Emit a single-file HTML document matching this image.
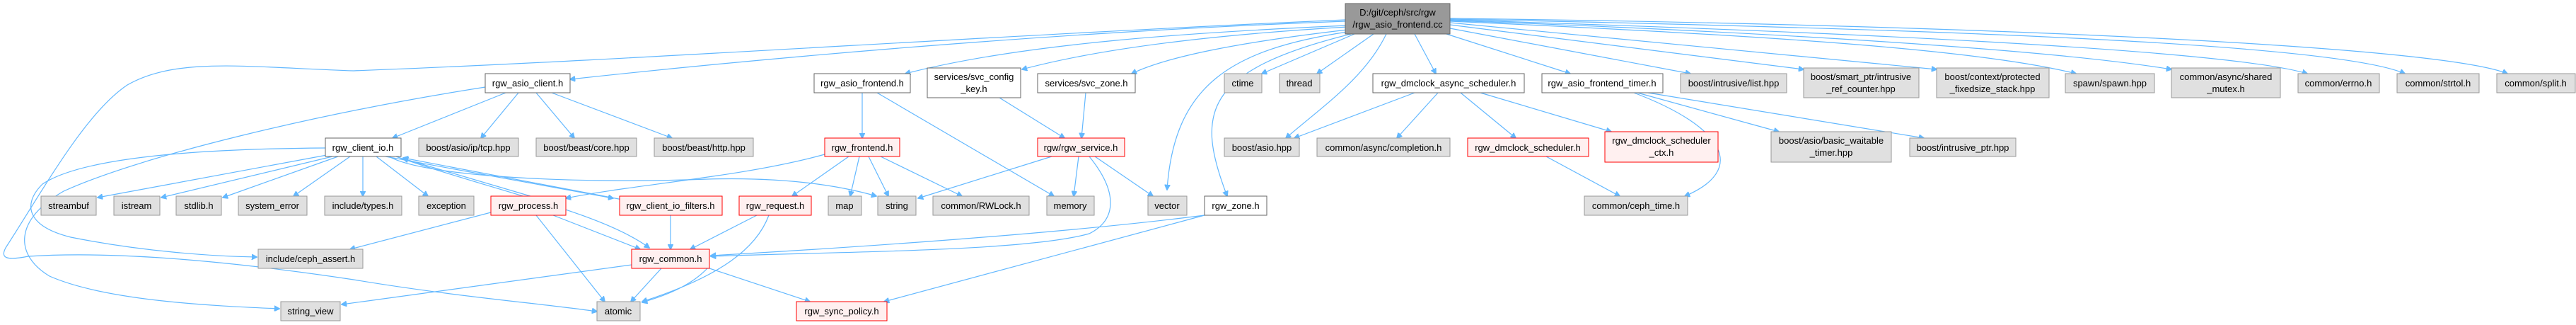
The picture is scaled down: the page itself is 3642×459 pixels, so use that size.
<!DOCTYPE html>
<html><head><meta charset="utf-8"><style>
html,body{margin:0;padding:0;background:#fff;}
svg{display:block;}
text{font-family:"Liberation Sans",Arial,sans-serif;font-size:13px;fill:#000;text-anchor:middle;}
.g{fill:#e0e0e0;stroke:#999;stroke-width:1}
.w{fill:#fff;stroke:#666;stroke-width:1}
.r{fill:#fff0f0;stroke:#ff0000;stroke-width:1}
.t{fill:#999;stroke:#666;stroke-width:1}
path{fill:none;stroke:#63b8ff;stroke-width:1.2;marker-end:url(#a)}
</style></head><body>
<svg width="3642" height="459" viewBox="0 0 3642 459" xmlns="http://www.w3.org/2000/svg">
<defs><marker id="a" viewBox="0 0 10 10" refX="9" refY="5" markerWidth="8" markerHeight="8" orient="auto" markerUnits="userSpaceOnUse"><path d="M0,0 L10,5 L0,10 z" style="fill:#63b8ff;stroke:#63b8ff;marker-end:none"/></marker></defs>

<!-- edges from top -->
<path d="M1902,30 C1500,45 1100,80 806,112"/>
<path d="M1902,28 C1400,50 900,85 500,100 C350,95 250,80 180,120 C120,160 60,270 8,350 C0,365 10,368 40,362 C150,355 300,365 500,395 C650,420 780,430 844,440"/>
<path d="M1905,36 C1700,45 1450,60 1280,104"/>
<path d="M1905,38 C1700,50 1550,70 1445,98"/>
<path d="M1905,42 C1750,60 1650,80 1600,104"/>
<path d="M1905,45 C1740,70 1660,120 1650,268"/>
<path d="M1910,48 C1700,100 1690,160 1735,277"/>
<path d="M1915,48 L1784,104"/>
<path d="M1942,48 L1862,104"/>
<path d="M1960,48 C1930,110 1870,150 1818,195"/>
<path d="M2000,48 L2030,104"/>
<path d="M2045,48 L2220,104"/>
<path d="M2050,40 L2390,104"/>
<path d="M2050,35 L2550,98"/>
<path d="M2050,32 L2738,98"/>
<path d="M2050,30 C2500,50 2800,70 2935,104"/>
<path d="M2050,29 C2500,45 2900,70 3070,98"/>
<path d="M2050,28 C2600,45 3150,70 3262,104"/>
<path d="M2050,27 C2700,40 3300,60 3400,104"/>
<path d="M2050,26 C2800,35 3450,65 3545,104"/>

<!-- rgw_asio_client -->
<path d="M715,131 L555,195"/>
<path d="M733,131 L680,195"/>
<path d="M758,131 L812,195"/>
<path d="M780,131 L950,195"/>
<path d="M686,123 C450,160 200,220 90,270 C20,310 20,360 70,390 C150,425 300,432 395,436"/>
<!-- rgw_client_io -->
<path d="M460,209 C300,210 120,220 60,260 C30,290 40,320 100,335 C200,355 300,362 363,363"/>
<path d="M462,219 L138,279"/>
<path d="M470,221 L228,279"/>
<path d="M478,221 L315,279"/>
<path d="M495,221 L415,277"/>
<path d="M513,221 L513,277"/>
<path d="M532,221 L605,277"/>
<path d="M545,221 L867,280"/>
<path d="M550,221 C600,250 820,260 1000,253 C1100,250 1180,260 1239,277"/>
<path d="M560,221 C700,270 850,300 918,350"/>
<path d="M880,282 L570,223"/>
<path d="M760,280 L570,224"/>
<!-- rgw_process -->
<path d="M694,300 L495,352"/>
<path d="M782,304 L905,352"/>
<path d="M758,304 L855,426"/>
<!-- filters -->
<path d="M948,304 L948,352"/>
<!-- rgw_request -->
<path d="M1070,304 L976,352"/>
<path d="M1087,304 C1070,350 1020,390 908,426"/>
<!-- rgw_common -->
<path d="M893,374 L483,430"/>
<path d="M935,379 L892,426"/>
<path d="M1000,379 C980,400 950,415 908,427"/>
<path d="M1003,379 L1145,426"/>
<!-- rgw_frontend -->
<path d="M1200,221 L1120,277"/>
<path d="M1215,221 L1202,277"/>
<path d="M1228,221 L1256,277"/>
<path d="M1245,221 L1360,277"/>
<path d="M1166,218 C1050,250 900,260 800,280"/>
<!-- rgw_asio_frontend -->
<path d="M1219,131 L1219,195"/>
<path d="M1240,131 L1490,277"/>
<!-- svc -->
<path d="M1413,138 L1505,195"/>
<path d="M1535,131 L1529,195"/>
<!-- rgw_service -->
<path d="M1487,221 L1298,280"/>
<path d="M1525,221 L1518,277"/>
<path d="M1548,221 L1630,277"/>
<path d="M1540,221 C1580,270 1580,310 1540,330 C1450,355 1200,355 1005,362"/>
<!-- rgw_zone -->
<path d="M1703,304 C1500,330 1200,350 1005,361"/>
<path d="M1703,304 L1250,426"/>
<!-- dmclock async -->
<path d="M2000,131 L1830,195"/>
<path d="M2033,131 L1975,195"/>
<path d="M2065,131 L2143,195"/>
<path d="M2093,131 L2278,186"/>
<!-- timer -->
<path d="M2310,131 C2440,180 2470,240 2382,277"/>
<path d="M2315,131 L2515,186"/>
<path d="M2330,131 L2720,195"/>
<!-- scheduler -->
<path d="M2186,221 L2290,277"/>

<!-- nodes -->
<rect class="t" x="1902" y="5" width="148" height="43"/><text x="1976" y="22">D:/git/ceph/src/rgw</text><text x="1976" y="39">/rgw_asio_frontend.cc</text>

<rect class="w" x="686" y="104" width="120" height="27"/><text x="746" y="122">rgw_asio_client.h</text>
<rect class="w" x="1151" y="104" width="136" height="27"/><text x="1219" y="122">rgw_asio_frontend.h</text>
<rect class="w" x="1311" y="96" width="132" height="42"/><text x="1377" y="113">services/svc_config</text><text x="1377" y="130">_key.h</text>
<rect class="w" x="1467" y="104" width="138" height="27"/><text x="1536" y="122">services/svc_zone.h</text>
<rect class="g" x="1731" y="104" width="53" height="27"/><text x="1757" y="122">ctime</text>
<rect class="g" x="1809" y="104" width="57" height="27"/><text x="1837" y="122">thread</text>
<rect class="w" x="1941" y="104" width="214" height="27"/><text x="2048" y="122">rgw_dmclock_async_scheduler.h</text>
<rect class="w" x="2180" y="104" width="171" height="27"/><text x="2265" y="122">rgw_asio_frontend_timer.h</text>
<rect class="g" x="2376" y="104" width="150" height="27"/><text x="2451" y="122">boost/intrusive/list.hpp</text>
<rect class="g" x="2550" y="96" width="163" height="42"/><text x="2631" y="113">boost/smart_ptr/intrusive</text><text x="2631" y="130">_ref_counter.hpp</text>
<rect class="g" x="2738" y="96" width="159" height="42"/><text x="2817" y="113">boost/context/protected</text><text x="2817" y="130">_fixedsize_stack.hpp</text>
<rect class="g" x="2920" y="104" width="126" height="27"/><text x="2983" y="122">spawn/spawn.hpp</text>
<rect class="g" x="3070" y="96" width="154" height="42"/><text x="3147" y="113">common/async/shared</text><text x="3147" y="130">_mutex.h</text>
<rect class="g" x="3249" y="104" width="115" height="27"/><text x="3306" y="122">common/errno.h</text>
<rect class="g" x="3389" y="104" width="116" height="27"/><text x="3447" y="122">common/strtol.h</text>
<rect class="g" x="3530" y="104" width="111" height="27"/><text x="3585" y="122">common/split.h</text>

<rect class="w" x="460" y="195" width="107" height="26"/><text x="513" y="213">rgw_client_io.h</text>
<rect class="g" x="592" y="195" width="141" height="26"/><text x="662" y="213">boost/asio/ip/tcp.hpp</text>
<rect class="g" x="758" y="195" width="142" height="26"/><text x="829" y="213">boost/beast/core.hpp</text>
<rect class="g" x="925" y="195" width="140" height="26"/><text x="995" y="213">boost/beast/http.hpp</text>
<rect class="r" x="1166" y="195" width="106" height="26"/><text x="1219" y="213">rgw_frontend.h</text>
<rect class="r" x="1467" y="195" width="123" height="26"/><text x="1528" y="213">rgw/rgw_service.h</text>
<rect class="g" x="1731" y="195" width="106" height="26"/><text x="1784" y="213">boost/asio.hpp</text>
<rect class="g" x="1862" y="195" width="188" height="26"/><text x="1956" y="213">common/async/completion.h</text>
<rect class="r" x="2075" y="195" width="171" height="26"/><text x="2160" y="213">rgw_dmclock_scheduler.h</text>
<rect class="r" x="2269" y="186" width="160" height="43"/><text x="2349" y="203">rgw_dmclock_scheduler</text><text x="2349" y="220">_ctx.h</text>
<rect class="g" x="2504" y="186" width="170" height="43"/><text x="2589" y="203">boost/asio/basic_waitable</text><text x="2589" y="220">_timer.hpp</text>
<rect class="g" x="2700" y="195" width="150" height="26"/><text x="2775" y="213">boost/intrusive_ptr.hpp</text>

<rect class="g" x="58" y="277" width="78" height="27"/><text x="97" y="295">streambuf</text>
<rect class="g" x="161" y="277" width="65" height="27"/><text x="193" y="295">istream</text>
<rect class="g" x="249" y="277" width="64" height="27"/><text x="281" y="295">stdlib.h</text>
<rect class="g" x="337" y="277" width="97" height="27"/><text x="385" y="295">system_error</text>
<rect class="g" x="459" y="277" width="109" height="27"/><text x="513" y="295">include/types.h</text>
<rect class="g" x="592" y="277" width="78" height="27"/><text x="631" y="295">exception</text>
<rect class="r" x="694" y="277" width="106" height="27"/><text x="747" y="295">rgw_process.h</text>
<rect class="r" x="876" y="277" width="145" height="27"/><text x="948" y="295">rgw_client_io_filters.h</text>
<rect class="r" x="1045" y="277" width="102" height="27"/><text x="1096" y="295">rgw_request.h</text>
<rect class="g" x="1171" y="277" width="47" height="27"/><text x="1194" y="295">map</text>
<rect class="g" x="1241" y="277" width="54" height="27"/><text x="1268" y="295">string</text>
<rect class="g" x="1319" y="277" width="136" height="27"/><text x="1387" y="295">common/RWLock.h</text>
<rect class="g" x="1480" y="277" width="67" height="27"/><text x="1513" y="295">memory</text>
<rect class="g" x="1623" y="277" width="55" height="27"/><text x="1650" y="295">vector</text>
<rect class="w" x="1703" y="277" width="88" height="27"/><text x="1747" y="295">rgw_zone.h</text>
<rect class="g" x="2240" y="277" width="146" height="27"/><text x="2313" y="295">common/ceph_time.h</text>

<rect class="g" x="365" y="352" width="148" height="27"/><text x="439" y="370">include/ceph_assert.h</text>
<rect class="r" x="893" y="352" width="110" height="27"/><text x="948" y="370">rgw_common.h</text>

<rect class="g" x="397" y="426" width="84" height="27"/><text x="439" y="444">string_view</text>
<rect class="g" x="844" y="426" width="61" height="27"/><text x="874" y="444">atomic</text>
<rect class="r" x="1126" y="426" width="128" height="27"/><text x="1190" y="444">rgw_sync_policy.h</text>
</svg>
</body></html>
